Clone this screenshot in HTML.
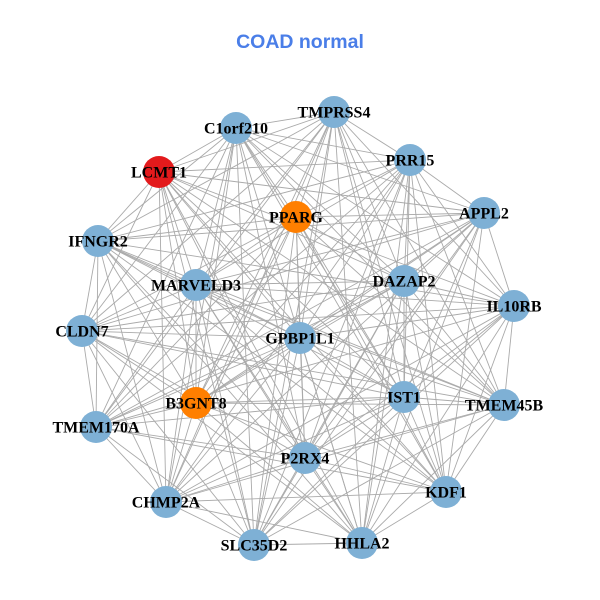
<!DOCTYPE html>
<html><head><meta charset="utf-8"><style>
html,body{margin:0;padding:0;background:#fff;}
svg{display:block;}
</style></head><body>
<svg id="g" width="600" height="600" xmlns="http://www.w3.org/2000/svg">
<rect width="600" height="600" fill="#fff"/>
<text x="300" y="48" text-anchor="middle" font-family="Liberation Sans, sans-serif" font-weight="bold" font-size="19.5" fill="#4a7ee8">COAD normal</text>
<g id="edges" stroke="#aaaaaa" stroke-width="0.9"></g>
<g id="nodes"></g>
<g id="labels" font-family="Liberation Serif, serif" font-weight="bold" font-size="16" fill="#000" text-anchor="middle"></g>
</svg>
<script>
var N=[["C1orf210",236,128,"b"],["TMPRSS4",334,112,"b"],["PRR15",410,160,"b"],["LCMT1",159,172,"r"],["PPARG",296,217,"o"],["APPL2",484,213,"b"],["IFNGR2",98,241,"b"],["MARVELD3",196,285,"b"],["DAZAP2",404,281,"b"],["IL10RB",514,306,"b"],["CLDN7",82,331,"b"],["GPBP1L1",300,338,"b"],["B3GNT8",196,403,"o"],["IST1",404,397,"b"],["TMEM45B",504,405,"b"],["TMEM170A",96,427,"b"],["P2RX4",305,458,"b"],["KDF1",446,492,"b"],["CHMP2A",166,502,"b"],["SLC35D2",254,545,"b"],["HHLA2",362,543,"b"]];
var ns="http://www.w3.org/2000/svg";
var E=document.getElementById("edges"),ND=document.getElementById("nodes"),L=document.getElementById("labels");
var col={b:"#7eb0d5",r:"#e31a1c",o:"#ff7f00"};
for(var i=0;i<N.length;i++)for(var j=i+1;j<N.length;j++){
 if((i*7+j*3)%11==0)continue;
 var l=document.createElementNS(ns,"line");
 l.setAttribute("x1",N[i][1]);l.setAttribute("y1",N[i][2]);l.setAttribute("x2",N[j][1]);l.setAttribute("y2",N[j][2]);E.appendChild(l);}
N.forEach(function(n){
 var c=document.createElementNS(ns,"circle");c.setAttribute("cx",n[1]);c.setAttribute("cy",n[2]);c.setAttribute("r",16);c.setAttribute("fill",col[n[3]]);ND.appendChild(c);
 var t=document.createElementNS(ns,"text");t.setAttribute("x",n[1]);t.setAttribute("y",n[2]+5.5);t.textContent=n[0];L.appendChild(t);});
</script>
</body></html>
